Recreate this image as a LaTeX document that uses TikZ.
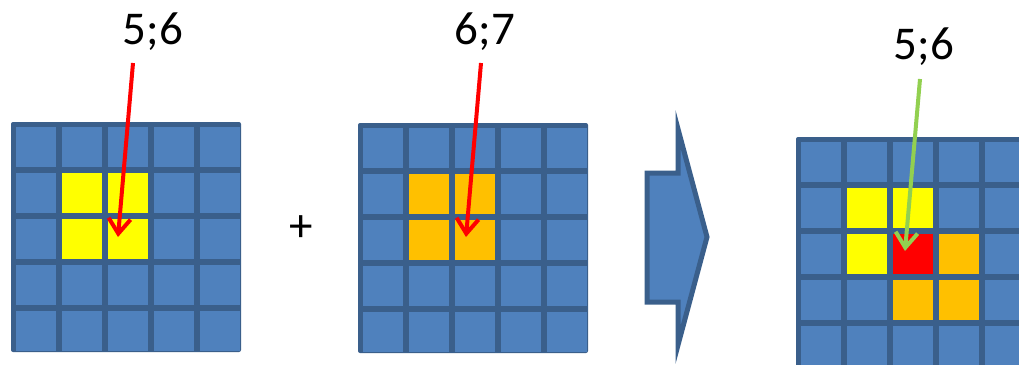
\documentclass[tikz,border=0pt]{standalone}
\usepackage{fontspec}
\setmainfont{Carlito}
\usetikzlibrary{arrows.meta}
\definecolor{cellblue}{HTML}{4F81BD}
\definecolor{lineblue}{HTML}{3A5F8B}
\definecolor{cyellow}{HTML}{FFFF00}
\definecolor{corange}{HTML}{FFC000}
\definecolor{cred}{HTML}{FF0000}
\definecolor{cgreen}{HTML}{92D050}
\tikzset{
  label text/.style={font=\fontsize{47}{56}\selectfont, inner sep=0pt, anchor=base},
  pointer/.style={line width=4pt, -{Straight Barb[length=15pt,width=22pt,line width=4pt]}},
}
% grid macro: #1 = x0, #2 = y0
\newcommand{\mygrid}[2]{%
  \fill[lineblue, rounded corners=2pt] (#1,#2) rectangle ++(230,230);
  \foreach \i in {0,...,4}{
    \foreach \j in {0,...,4}{
      \fill[cellblue] (#1+4.5+46*\i,#2+4.5+46*\j) rectangle ++(40.5,40.5);
    }
  }
}
\newcommand{\mycell}[5]{% x0,y0,col,row,color
  \fill[#5] (#1+4.5+46*#3,#2+4.5+46*#4) rectangle ++(40.5,40.5);
}
\begin{document}
\begin{tikzpicture}[x=1pt,y=-1pt]
\useasboundingbox (0,0) rectangle (1019,364);
\begin{scope}
\clip (0,0) rectangle (1019,364);
% grid 1
\mygrid{11}{122}
\mycell{11}{122}{1}{1}{cyellow}
\mycell{11}{122}{2}{1}{cyellow}
\mycell{11}{122}{1}{2}{cyellow}
\mycell{11}{122}{2}{2}{cyellow}
% grid 2
\mygrid{358}{123}
\mycell{358}{123}{1}{1}{corange}
\mycell{358}{123}{2}{1}{corange}
\mycell{358}{123}{1}{2}{corange}
\mycell{358}{123}{2}{2}{corange}
% grid 3
\mygrid{796}{137}
\mycell{796}{137}{1}{1}{cyellow}
\mycell{796}{137}{2}{1}{cyellow}
\mycell{796}{137}{1}{2}{cyellow}
\mycell{796}{137}{2}{2}{cred}
\mycell{796}{137}{3}{2}{corange}
\mycell{796}{137}{2}{3}{corange}
\mycell{796}{137}{3}{3}{corange}
% big arrow
\draw[line width=5pt, lineblue, fill=cellblue, line join=miter]
  (647,173) -- (678,173) -- (678,129) -- (707,237) -- (678,345) -- (678,302) -- (647,302) -- cycle;
\end{scope}
% labels
\node[label text] (t1) at (153,44) {5;6};
\node[label text] (t2) at (485,44) {6;7};
\node[label text] (t3) at (924,59) {5;6};
\node[label text] (plus) at (301,241) {+};
% pointers
\coordinate (s1) at (133,63);
\coordinate (e1) at (118,237);
\coordinate (s2) at (481,63);
\coordinate (e2) at (466,237);
\coordinate (s3) at (920,79);
\coordinate (e3) at (905,251);
\draw[pointer, cred] (s1) -- (e1);
\draw[pointer, cred] (s2) -- (e2);
\draw[pointer, cgreen] (s3) -- (e3);
\end{tikzpicture}
\end{document}
